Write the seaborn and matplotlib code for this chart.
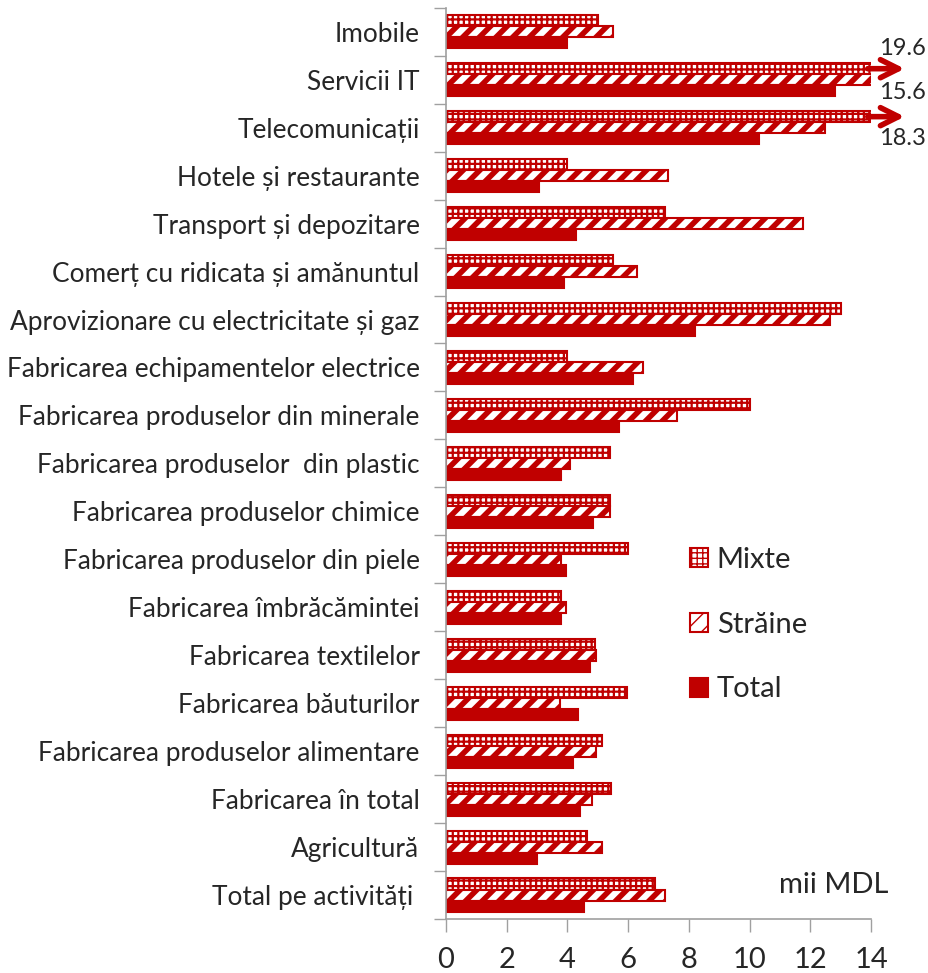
import pandas as pd
import matplotlib.pyplot as plt
import matplotlib.patches as mpatches
import seaborn as sns

categories = [
    "Imobile",
    "Servicii IT",
    "Telecomunicații",
    "Hotele și restaurante",
    "Transport și depozitare",
    "Comerț cu ridicata și amănuntul",
    "Aprovizionare cu electricitate și gaz",
    "Fabricarea echipamentelor electrice",
    "Fabricarea produselor din minerale",
    "Fabricarea produselor  din plastic",
    "Fabricarea produselor chimice",
    "Fabricarea produselor din piele",
    "Fabricarea îmbrăcămintei",
    "Fabricarea textilelor",
    "Fabricarea băuturilor",
    "Fabricarea produselor alimentare",
    "Fabricarea în total",
    "Agricultură",
    "Total pe activități ",
]
mixte = [5.0, 19.6, 18.3, 4.0, 7.2, 5.5, 13.0, 4.0, 10.0, 5.4, 5.4, 6.0, 3.8, 4.9, 5.95, 5.15, 5.45, 4.65, 6.9]
straine = [5.5, 15.6, 12.5, 7.3, 11.75, 6.3, 12.65, 6.5, 7.6, 4.1, 5.4, 3.8, 3.95, 4.95, 3.75, 4.95, 4.8, 5.15, 7.2]
total = [4.0, 12.8, 10.3, 3.05, 4.3, 3.9, 8.2, 6.15, 5.7, 3.8, 4.85, 3.95, 3.8, 4.75, 4.35, 4.2, 4.4, 3.0, 4.55]
series = ["Mixte", "Străine", "Total"]
xticks = [0, 2, 4, 6, 8, 10, 12, 14]

RED = "#c00000"

df = pd.DataFrame({
    "cat": categories * 3,
    "serie": [s for s in series for _ in categories],
    "val": mixte + straine + total,
})

sns.set_style("white")
plt.rcParams["font.family"] = ["Lato", "DejaVu Sans"]

fig = plt.figure(figsize=(9.29, 9.73), dpi=100)
ax = fig.add_axes([0.480, 0.0555, 0.4576, 0.9365])

sns.barplot(data=df, y="cat", x="val", hue="serie", hue_order=series,
            order=categories, orient="h", width=0.69, ax=ax, legend=False,
            errorbar=None)

styles = {
    "Mixte": dict(facecolor="white", hatch="+++", hlw=1.6),
    "Străine": dict(facecolor="white", hatch="//", hlw=4.0),
    "Total": dict(facecolor=RED, hatch=None, hlw=1.0),
}


def style_patch(p, s):
    p.set_facecolor(styles[s]["facecolor"])
    p.set_edgecolor(RED)
    p.set_hatch(styles[s]["hatch"])
    p.set_linewidth(1.5)
    if hasattr(p, "set_hatch_linewidth"):
        p.set_hatch_linewidth(styles[s]["hlw"])


for cont, s in zip(ax.containers, series):
    for bar in cont:
        style_patch(bar, s)

ax.set_xlim(0, 14)
ax.set_ylim(len(categories) - 0.5, -0.5)
ax.set_xticks(xticks)
ax.set_xticklabels([str(t) for t in xticks], fontsize=21)
ax.set_xlabel("")
ax.set_ylabel("")
ax.tick_params(axis="x", length=9, width=1, color="#a0a0a0", pad=11, bottom=True)
ax.tick_params(axis="y", which="major", length=0, labelsize=18.9, pad=19)
ax.set_yticks([i + 0.5 for i in range(-1, len(categories))], minor=True)
ax.tick_params(axis="y", which="minor", length=9, width=1, color="#a0a0a0", left=True)

for sp in ["top", "right"]:
    ax.spines[sp].set_visible(False)
for sp in ["left", "bottom"]:
    ax.spines[sp].set_color("#a0a0a0")
    ax.spines[sp].set_linewidth(1.2)

# arrows for values beyond the axis
i_it = categories.index("Servicii IT")
i_tel = categories.index("Telecomunicații")
off = 0.69 / 3
for idx in (i_it, i_tel):
    ax.annotate("", xy=(15.2, idx - off), xytext=(13.8, idx - off),
                xycoords="data", annotation_clip=False,
                arrowprops=dict(arrowstyle="->,head_length=1.3,head_width=0.65",
                                mutation_scale=10, color=RED, lw=4))
ax.text(15.05, i_it - 0.66, f"{mixte[i_it]:.1f}", fontsize=17, ha="center", va="center", clip_on=False)
ax.text(15.05, i_it + 0.26, f"{straine[i_it]:.1f}", fontsize=17, ha="center", va="center", clip_on=False)
ax.text(15.05, i_tel + 0.22, f"{mixte[i_tel]:.1f}", fontsize=17, ha="center", va="center", clip_on=False)

handles = []
for s in series:
    h = mpatches.Patch(label=s)
    style_patch(h, s)
    handles.append(h)
ax.legend(handles=handles, loc="center left", bbox_to_anchor=(0.574, 0.323),
          frameon=False, fontsize=21, labelspacing=1.33, handlelength=0.62,
          handleheight=0.62, handletextpad=0.3, borderpad=0, borderaxespad=0)

ax.text(1.04, 0.037, "mii MDL", transform=ax.transAxes, fontsize=21,
        ha="right", va="center")

fig.savefig("out.png", dpi=100)
